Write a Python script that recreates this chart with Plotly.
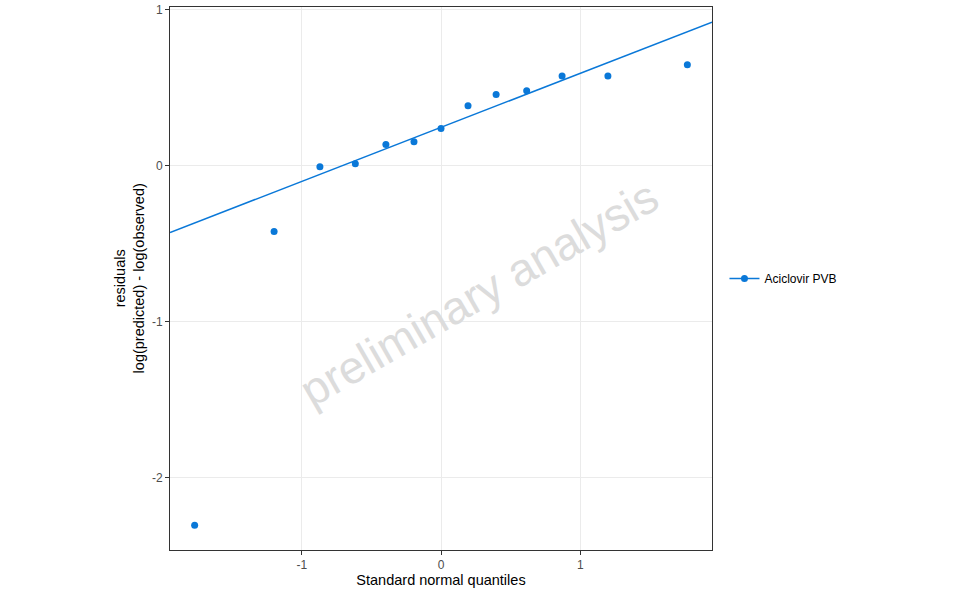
import numpy as np
import plotly.graph_objects as go
from statistics import NormalDist

series_name = "Aciclovir PVB"
residuals = [-2.308, -0.423, -0.008, 0.011, 0.135, 0.152, 0.237,
             0.383, 0.455, 0.479, 0.575, 0.575, 0.646]
x_ticks = [-1, 0, 1]
y_ticks = [-2, -1, 0, 1]

n = len(residuals)
nd = NormalDist()
a = 0.5 if n > 10 else 3 / 8
theo = [nd.inv_cdf((i + 1 - a) / (n + 1 - 2 * a)) for i in range(n)]

# reference line through the quartiles (like qqline)
q1, q3 = np.percentile(residuals, [25, 75])
t1, t3 = nd.inv_cdf(0.25), nd.inv_cdf(0.75)
slope = (q3 - q1) / (t3 - t1)
intercept = q1 - slope * t1

xpad = 0.05 * (theo[-1] - theo[0])
xr = [theo[0] - xpad, theo[-1] + xpad]
line_top = intercept + slope * theo[-1]
ypad = 0.05 * (line_top - residuals[0])
yr = [residuals[0] - ypad, line_top + ypad]

blue = "#0a78d8"
font = "Liberation Sans"

fig = go.Figure()
fig.add_trace(go.Scatter(
    x=xr, y=[intercept + slope * v for v in xr], mode="lines",
    line=dict(color=blue, width=1.5), showlegend=False, hoverinfo="skip"))
fig.add_trace(go.Scatter(
    x=theo, y=residuals, mode="markers", name=series_name,
    marker=dict(color=blue, size=7), showlegend=False))
# legend entry: line + point
fig.add_trace(go.Scatter(
    x=[None], y=[None], mode="lines+markers", name=series_name,
    line=dict(color=blue, width=1.5), marker=dict(color=blue, size=7)))

fig.add_annotation(
    text="preliminary analysis", xref="paper", yref="paper",
    x=0.571, y=0.473, showarrow=False, textangle=-30,
    font=dict(size=46, color="#dcdcdc", family=font))

fig.add_annotation(
    text="residuals<br>log(predicted) - log(observed)", xref="paper", yref="paper",
    x=-0.074, y=0.5, showarrow=False, textangle=-90,
    xanchor="center", yanchor="middle",
    font=dict(size=14.5, color="black", family=font))

axis_style = dict(
    showline=True, mirror=True, linecolor="#333333", linewidth=1,
    showgrid=True, gridcolor="#ebebeb", gridwidth=1, zeroline=False,
    ticks="outside", ticklen=4, tickcolor="#333333", automargin=False,
    tickfont=dict(size=12, color="#4d4d4d", family=font))

fig.update_xaxes(range=xr, tickvals=x_ticks, ticktext=[str(v) for v in x_ticks],
                 title=dict(text="Standard normal quantiles", standoff=0,
                            font=dict(size=14.5, color="black", family=font)),
                 **axis_style)
fig.update_yaxes(range=yr, tickvals=y_ticks, ticktext=[str(v) for v in y_ticks],
                 **axis_style)

fig.update_layout(
    width=960, height=593,
    margin=dict(l=170, r=248, t=7, b=43),
    plot_bgcolor="white", paper_bgcolor="white",
    font=dict(family=font),
    legend=dict(x=1.023, y=0.5, xanchor="left", yanchor="middle",
                font=dict(size=12, color="black")),
)

fig.write_html("out.html", config={"displayModeBar": False},
               post_script="document.body.style.margin='0';")
